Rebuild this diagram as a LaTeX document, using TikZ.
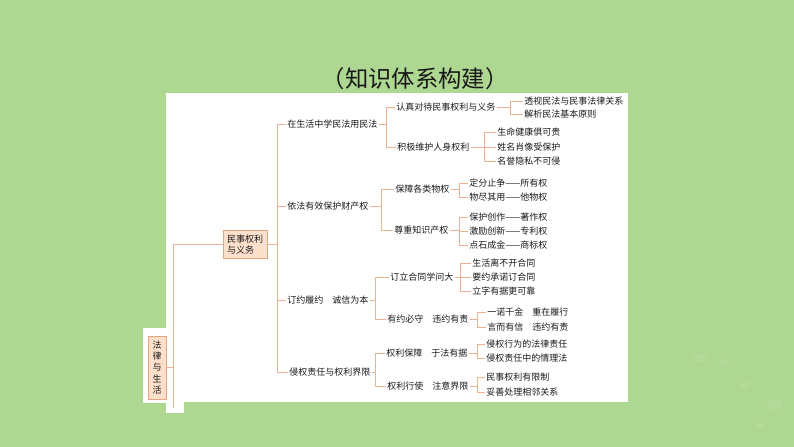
\documentclass[tikz,border=0pt]{standalone}
\usepackage{fontspec}
\newfontfamily\cjk{Noto Sans CJK SC}
\definecolor{fondo}{RGB}{174,216,145}
\definecolor{linea}{RGB}{236,178,145}
\definecolor{cajafill}{RGB}{252,224,203}
\definecolor{cajaborde}{RGB}{228,166,128}
\definecolor{texto}{RGB}{25,25,25}
\tikzset{
  rama/.style={draw=linea, line width=0.6pt},
  hoja/.style={anchor=west, inner sep=0.75pt, text=texto, font=\cjk\fontsize{6.75pt}{8.25pt}\selectfont},
  caja/.style={draw=cajaborde, fill=cajafill, line width=0.5pt, text=texto, font=\cjk\fontsize{6.75pt}{8.4pt}\selectfont}
}
\begin{document}
\begin{tikzpicture}[x=0.75pt, y=-0.75pt]
    \useasboundingbox (0,0) rectangle (794,447);

    % Fondo y panel blanco
    \fill[fondo] (0,0) rectangle (794,447);
    \fill[white] (166,93) rectangle (628,402);
    \fill[white] (143,328) rectangle (167,403);
    \fill[white] (166,401) rectangle (184,413);
    \foreach \cx/\cy/\r in {700/358/7, 725/362/5, 745/385/5, 775/405/8, 760/425/4}
      \fill[white, opacity=0.07] (\cx,\cy) ellipse ({\r*0.75pt} and {\r*0.5pt});

    % Titulo
    \node[text=texto, font=\cjk\fontsize{17.5pt}{19pt}\selectfont] (titulo) at (415,79) {（知识体系构建）};

    % Raiz y primer nivel
    \node[caja, align=center, minimum width=13.5pt, minimum height=47pt, inner sep=1pt] (raiz) at (157,367.5) {法\\律\\与\\生\\活};
    \node[caja, align=left, inner xsep=3pt, minimum height=18.75pt] (mq) at (245,244.5) {民事权利\\与义务};
    \coordinate (t0) at (173,0);
    \coordinate (fin) at (173,408);
    \draw[rama] (raiz.east) -- (raiz.east -| t0);
    \draw[rama] (mq.west) -- (mq.west -| t0) -- (fin);

    % Segundo nivel
    \node[hoja] (a) at (286,124) {在生活中学民法用民法};
    \node[hoja] (b) at (286,206) {依法有效保护财产权};
    \node[hoja] (c) at (286,300) {订约履约　诚信为本};
    \node[hoja] (d) at (288,372) {侵权责任与权利界限};
    \coordinate (t1) at (277,0);
    \draw[rama] (mq.east) -- (mq.east -| t1);
    \draw[rama] (a.west) -- (a.west -| t1) -- (d.west -| t1) -- (d.west);
    \draw[rama] (b.west) -- (b.west -| t1);
    \draw[rama] (c.west) -- (c.west -| t1);

    % Rama: en la vida
    \node[hoja] (a1) at (395,107) {认真对待民事权利与义务};
    \node[hoja] (a2) at (396,147) {积极维护人身权利};
    \coordinate (ta) at (386,0);
    \draw[rama] (a.east) -- (a.east -| ta);
    \draw[rama] (a1.west) -- (a1.west -| ta) -- (a2.west -| ta) -- (a2.west);

    \node[hoja] (a11) at (523,101) {透视民法与民事法律关系};
    \node[hoja] (a12) at (523,114) {解析民法基本原则};
    \coordinate (ta1) at (510,0);
    \draw[rama] (a1.east) -- (a1.east -| ta1);
    \draw[rama] (a11.west) -- (a11.west -| ta1) -- (a12.west -| ta1) -- (a12.west);

    \node[hoja] (a21) at (496,132) {生命健康俱可贵};
    \node[hoja] (a22) at (496,147) {姓名肖像受保护};
    \node[hoja] (a23) at (496,161) {名誉隐私不可侵};
    \coordinate (ta2) at (484,0);
    \draw[rama] (a2.east) -- (a2.east -| ta2);
    \draw[rama] (a21.west) -- (a21.west -| ta2) -- (a23.west -| ta2) -- (a23.west);
    \draw[rama] (a22.west) -- (a22.west -| ta2);

    % Rama: propiedad
    \node[hoja] (b1) at (394,189) {保障各类物权};
    \node[hoja] (b2) at (393,230) {尊重知识产权};
    \coordinate (tb) at (381,0);
    \draw[rama] (b.east) -- (b.east -| tb);
    \draw[rama] (b1.west) -- (b1.west -| tb) -- (b2.west -| tb) -- (b2.west);

    \node[hoja] (b11) at (468,183) {定分止争——所有权};
    \node[hoja] (b12) at (468,197) {物尽其用——他物权};
    \coordinate (tb1) at (459,0);
    \draw[rama] (b1.east) -- (b1.east -| tb1);
    \draw[rama] (b11.west) -- (b11.west -| tb1) -- (b12.west -| tb1) -- (b12.west);

    \node[hoja] (b21) at (468,217) {保护创作——著作权};
    \node[hoja] (b22) at (468,231) {激励创新——专利权};
    \node[hoja] (b23) at (468,245) {点石成金——商标权};
    \coordinate (tb2) at (459,0);
    \draw[rama] (b2.east) -- (b2.east -| tb2);
    \draw[rama] (b21.west) -- (b21.west -| tb2) -- (b23.west -| tb2) -- (b23.west);
    \draw[rama] (b22.west) -- (b22.west -| tb2);

    % Rama: contratos
    \node[hoja] (c1) at (389,277) {订立合同学问大};
    \node[hoja] (c2) at (386,319) {有约必守　违约有责};
    \coordinate (tc) at (375,0);
    \draw[rama] (c.east) -- (c.east -| tc);
    \draw[rama] (c1.west) -- (c1.west -| tc) -- (c2.west -| tc) -- (c2.west);

    \node[hoja] (c11) at (471,263) {生活离不开合同};
    \node[hoja] (c12) at (471,277) {要约承诺订合同};
    \node[hoja] (c13) at (471,291) {立字有据更可靠};
    \coordinate (tc1) at (460,0);
    \draw[rama] (c1.east) -- (c1.east -| tc1);
    \draw[rama] (c11.west) -- (c11.west -| tc1) -- (c13.west -| tc1) -- (c13.west);
    \draw[rama] (c12.west) -- (c12.west -| tc1);

    \node[hoja] (c21) at (486,312) {一诺千金　重在履行};
    \node[hoja] (c22) at (486,327) {言而有信　违约有责};
    \coordinate (tc2) at (477,0);
    \draw[rama] (c2.east) -- (c2.east -| tc2);
    \draw[rama] (c21.west) -- (c21.west -| tc2) -- (c22.west -| tc2) -- (c22.west);

    % Rama: responsabilidad
    \node[hoja] (d1) at (385,353) {权利保障　于法有据};
    \node[hoja] (d2) at (386,386) {权利行使　注意界限};
    \coordinate (td) at (375,0);
    \draw[rama] (d.east) -- (d.east -| td);
    \draw[rama] (d1.west) -- (d1.west -| td) -- (d2.west -| td) -- (d2.west);

    \node[hoja] (d11) at (485,344) {侵权行为的法律责任};
    \node[hoja] (d12) at (485,358) {侵权责任中的情理法};
    \coordinate (td1) at (477,0);
    \draw[rama] (d1.east) -- (d1.east -| td1);
    \draw[rama] (d11.west) -- (d11.west -| td1) -- (d12.west -| td1) -- (d12.west);

    \node[hoja] (d21) at (485,377) {民事权利有限制};
    \node[hoja] (d22) at (485,392) {妥善处理相邻关系};
    \coordinate (td2) at (477,0);
    \draw[rama] (d2.east) -- (d2.east -| td2);
    \draw[rama] (d21.west) -- (d21.west -| td2) -- (d22.west -| td2) -- (d22.west);
  \end{tikzpicture}
\end{document}
